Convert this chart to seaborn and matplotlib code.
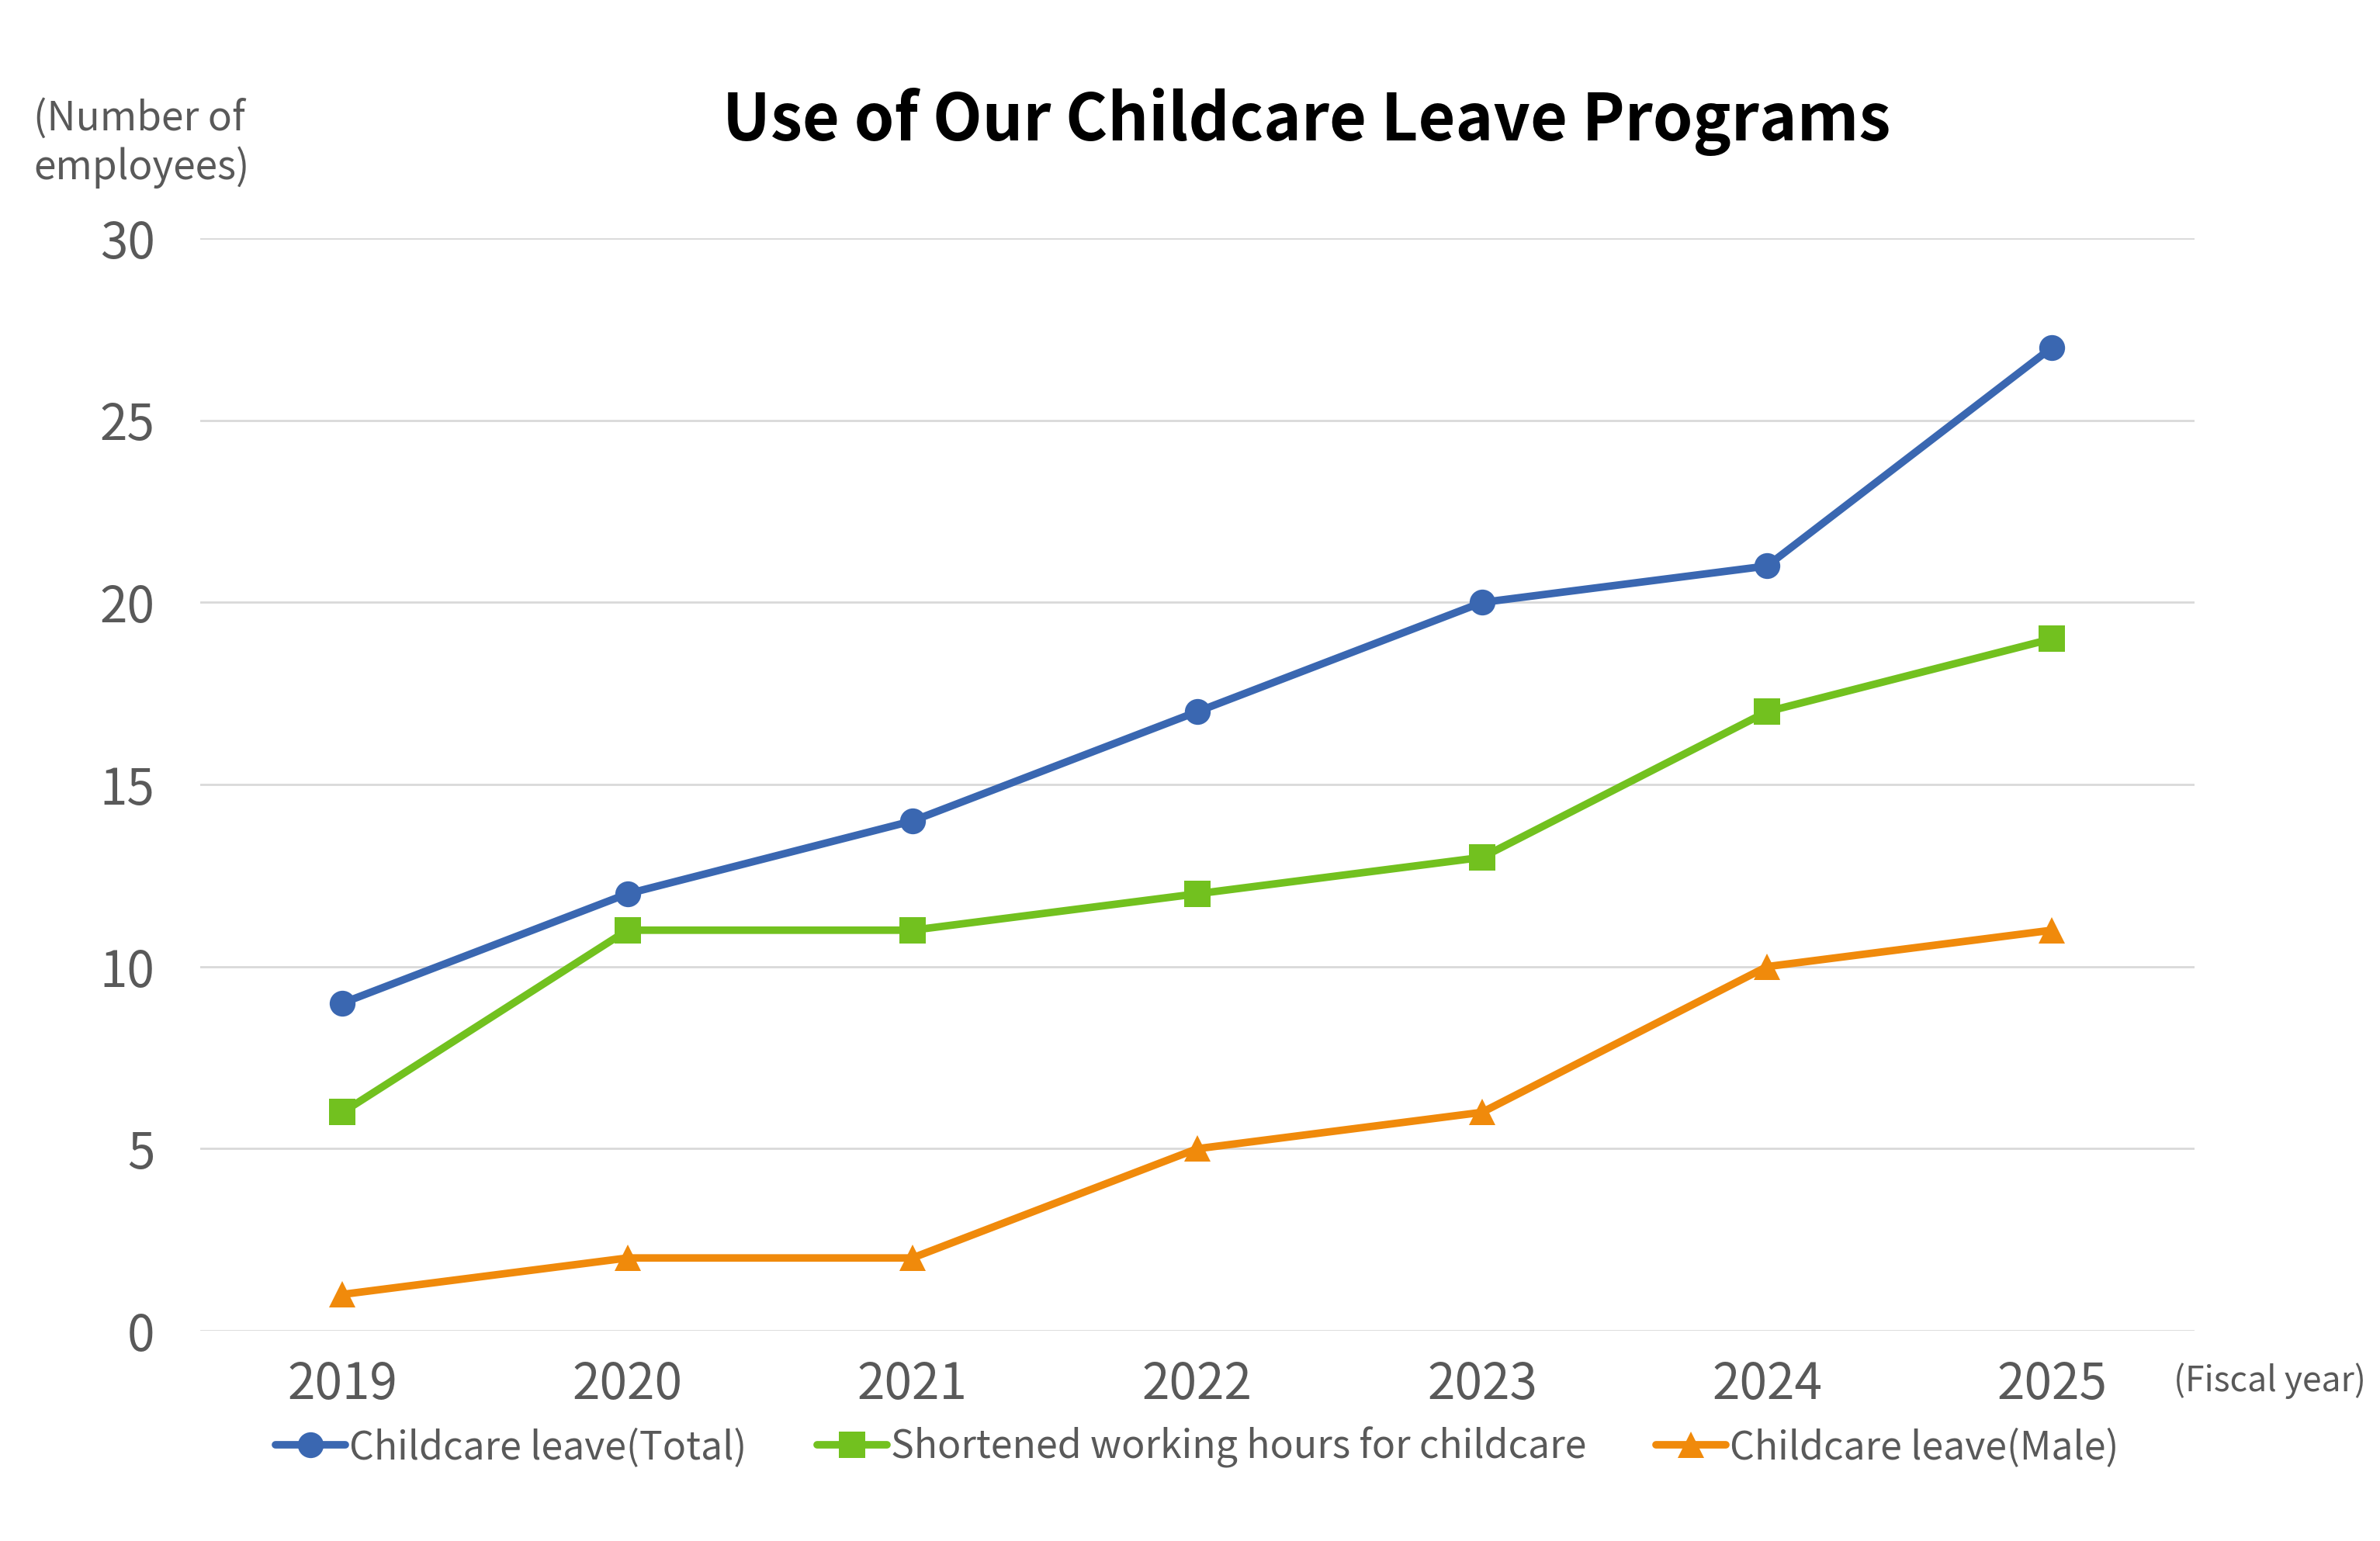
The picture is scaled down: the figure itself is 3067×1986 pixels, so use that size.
import pandas as pd
import matplotlib.pyplot as plt
import seaborn as sns

years = ['2019', '2020', '2021', '2022', '2023', '2024', '2025']
leave_total = [9, 12, 14, 17, 20, 21, 27]
shortened_hours = [6, 11, 11, 12, 13, 17, 19]
leave_male = [1, 2, 2, 5, 6, 10, 11]

SERIES = {
    'Childcare leave(Total)': leave_total,
    'Shortened working hours for childcare': shortened_hours,
    'Childcare leave(Male)': leave_male,
}
COLORS = {
    'Childcare leave(Total)': '#3A67B1',
    'Shortened working hours for childcare': '#72C11F',
    'Childcare leave(Male)': '#F08A0B',
}
MARKERS = {
    'Childcare leave(Total)': 'o',
    'Shortened working hours for childcare': 's',
    'Childcare leave(Male)': '^',
}
TEXT = '#595959'

df = pd.concat(
    [pd.DataFrame({'year': years, 'value': vals, 'series': name}) for name, vals in SERIES.items()],
    ignore_index=True,
)

sns.set_theme(style='white')
plt.rcParams['font.family'] = ['Noto Sans CJK JP', 'DejaVu Sans']

fig = plt.figure(figsize=(30.67, 19.86), dpi=100)
ax = fig.add_axes([0.0841, 0.1364, 0.922 - 0.0841, 0.8454 - 0.1364])

sns.lineplot(data=df, x='year', y='value', hue='series', style='series',
             palette=COLORS, markers=MARKERS, dashes=False, linewidth=7,
             markersize=24, markeredgewidth=0, ax=ax, zorder=3)

ax.set_ylim(0, 30)
ax.set_xlim(-0.5, 6.5)
ax.set_yticks(range(0, 31, 5))
ax.yaxis.grid(True, color='#D9D9D9', linewidth=2)
ax.xaxis.grid(False)
for s in ax.spines.values():
    s.set_visible(False)
ax.tick_params(axis='both', length=0, labelsize=46, labelcolor=TEXT)
ax.tick_params(axis='y', pad=42)
ax.tick_params(axis='x', pad=26)
ax.set_xlabel('')
ax.set_ylabel('')

fig.text(0.549, 0.921, 'Use of Our Childcare Leave Programs', ha='center', va='center',
         fontsize=59.5, fontweight='bold', color='black')
fig.text(0.014, 0.907, '(Number of\nemployees)', ha='left', va='center',
         fontsize=37, color=TEXT, linespacing=1.2)
fig.text(0.994, 0.104, '(Fiscal year)', ha='right', va='center', fontsize=32, color=TEXT)

handles, labels = ax.get_legend_handles_labels()
ax.legend(handles, labels, loc='center', bbox_to_anchor=(0.5, -0.107), ncol=3,
          frameon=False, fontsize=36, labelcolor=TEXT, handlelength=1.8,
          handletextpad=0.1, columnspacing=1.8)

fig.savefig('out.png', dpi=100)
